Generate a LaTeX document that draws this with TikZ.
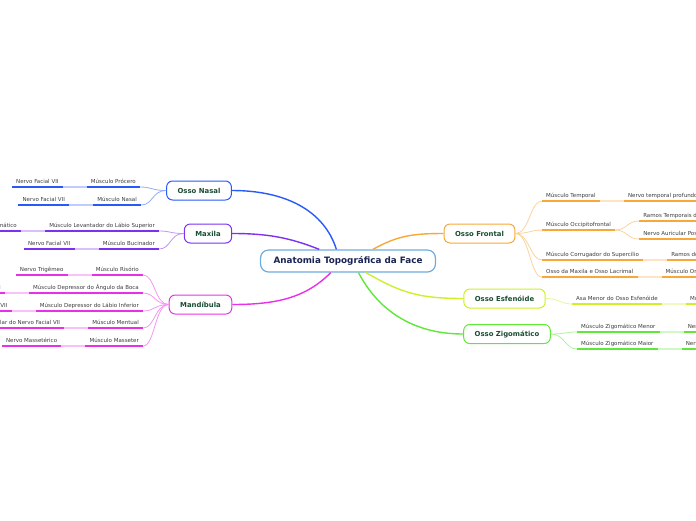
\documentclass[tikz,border=0pt]{standalone}
\usepackage{fontspec}
\setmainfont{DejaVu Sans}
\usepackage{tikz}
\usetikzlibrary{positioning}
\definecolor{mapleaf}{RGB}{60,60,60}
\definecolor{maptext}{RGB}{26,77,50}
\definecolor{maproot}{RGB}{26,36,84}
\definecolor{maprootline}{RGB}{110,172,222}
\definecolor{mapnasal}{RGB}{40,90,250}
\definecolor{mapmaxila}{RGB}{124,48,240}
\definecolor{mapmand}{RGB}{232,48,232}
\definecolor{mapfront}{RGB}{248,168,56}
\definecolor{mapesf}{RGB}{205,240,40}
\definecolor{mapzig}{RGB}{96,232,56}
\tikzset{
  bx/.style    ={draw, line width=1pt, rounded corners=6pt, fill=white, text=maptext,
                 font=\fontsize{6.9}{8}\selectfont\bfseries, inner xsep=11pt, minimum height=19pt},
  rootbx/.style={bx, draw=maprootline, line width=1.2pt, rounded corners=8pt, text=maproot,
                 font=\fontsize{8.8}{10}\selectfont\bfseries, inner xsep=13pt, minimum height=22pt},
  lf/.style    ={font=\fontsize{5.5}{6}\selectfont, text=mapleaf, inner xsep=4pt, inner ysep=1.5pt,
                 text height=5pt, text depth=1.5pt},
  ul/.style    ={draw=#1, line width=1.8pt, line cap=butt},
  ulp/.style   ={draw=#1!30, line width=1.8pt, line cap=butt},
  br/.style    ={draw=#1!50, line width=0.8pt},
  lk/.style    ={draw=#1, line width=1.4pt},
}
\begin{document}
\begin{tikzpicture}[x=1pt, y=-1pt]
  \useasboundingbox (0,0) rectangle (696,520);
  \clip (0,0) rectangle (696,520);
  % central topic and main topics
  \node[rootbx] (face) at (348,261) {Anatomia Topográfica da Face};
  \node[bx, draw=mapnasal] (nasal) at (199,190.5) {Osso Nasal};
  \node[bx, draw=mapmaxila] (maxila) at (208,233.5) {Maxila};
  \node[bx, draw=mapmand] (mand) at (200.5,304.5) {Mandíbula};
  \node[bx, draw=mapfront] (front) at (479.5,233.5) {Osso Frontal};
  \node[bx, draw=mapesf] (esf) at (504.5,298.5) {Osso Esfenóide};
  \node[bx, draw=mapzig] (zig) at (507,334) {Osso Zigomático};
  \draw[lk=mapnasal] (face.135) .. controls +(-12,-38) and +(55,0) .. (nasal.east);
  \draw[lk=mapmaxila] (face.158) .. controls +(-30,-12) and +(35,0) .. (maxila.east);
  \draw[lk=mapmand] (face.214) .. controls +(-25,25) and +(45,0) .. (mand.east);
  \draw[lk=mapfront] (face.25) .. controls +(25,-14) and +(-30,0) .. (front.west);
  \draw[lk=mapesf] (face.327) .. controls +(35,20) and +(-45,0) .. (esf.west);
  \draw[lk=mapzig] (face.312) .. controls +(20,38) and +(-50,0) .. (zig.west);

  % Osso Nasal
  \node[lf, anchor=south east] (n1) at (140,187) {Músculo Prócero};
  \node[lf, left=24pt of n1] (n1a) {Nervo Facial VII};
  \node[lf, anchor=south east] (n2) at (141,205) {Músculo Nasal};
  \node[lf, left=24pt of n2] (n2a) {Nervo Facial VII};
  \foreach \a/\b in {n1/n1a, n2/n2a} {
    \draw[br=mapnasal] (nasal.west) .. controls +(-14,0) and +(12,0) .. (\a.south east);
    \draw[ul=mapnasal] (\a.south west) -- (\a.south east);
    \draw[ulp=mapnasal] (\b.south east) -- (\a.south west);
    \draw[ul=mapnasal] (\b.south west) -- (\b.south east);
  }

  % Maxila
  \node[lf, anchor=south east] (m1) at (159,231) {Músculo Levantador do Lábio Superior};
  \node[lf, left=24pt of m1] (m1a) {Nervo Zigomático};
  \node[lf, anchor=south east] (m2) at (159,249) {Músculo Bucinador};
  \node[lf, left=24pt of m2] (m2a) {Nervo Facial VII};
  \foreach \a/\b in {m1/m1a, m2/m2a} {
    \draw[br=mapmaxila] (maxila.west) .. controls +(-14,0) and +(12,0) .. (\a.south east);
    \draw[ul=mapmaxila] (\a.south west) -- (\a.south east);
    \draw[ulp=mapmaxila] (\b.south east) -- (\a.south west);
    \draw[ul=mapmaxila] (\b.south west) -- (\b.south east);
  }

  % Mandibula
  \node[lf, anchor=south east] (d1) at (143,275) {Músculo Risório};
  \node[lf, left=24pt of d1] (d1a) {Nervo Trigêmeo};
  \node[lf, anchor=south east] (d2) at (143,293) {Músculo Depressor do Ângulo da Boca};
  \node[lf, left=24pt of d2] (d2a) {Nervo Facial VII};
  \node[lf, anchor=south east] (d3) at (143,311) {Músculo Depressor do Lábio Inferior};
  \node[lf, left=24pt of d3] (d3a) {Nervo Facial VII};
  \node[lf, anchor=south east] (d4) at (143,328) {Músculo Mentual};
  \node[lf, left=24pt of d4] (d4a) {Ramo Mandibular do Nervo Facial VII};
  \node[lf, anchor=south east] (d5) at (143,346) {Músculo Masseter};
  \node[lf, left=24pt of d5] (d5a) {Nervo Massetérico};
  \foreach \a/\b in {d1/d1a, d2/d2a, d3/d3a, d4/d4a, d5/d5a} {
    \draw[br=mapmand] (mand.west) .. controls +(-14,0) and +(12,0) .. (\a.south east);
    \draw[ul=mapmand] (\a.south west) -- (\a.south east);
    \draw[ulp=mapmand] (\b.south east) -- (\a.south west);
    \draw[ul=mapmand] (\b.south west) -- (\b.south east);
  }

  % Osso Frontal
  \node[lf, anchor=south west] (f1) at (542,201) {Músculo Temporal};
  \node[lf, right=24pt of f1] (f1a) {Nervo temporal profundo};
  \node[lf, anchor=south west] (f2) at (542,230) {Músculo Occipitofrontal};
  \node[lf, anchor=south west] (f2a) at ([xshift=24pt, yshift=9pt]f2.south east) {Ramos Temporais do Nervo Facial};
  \node[lf, anchor=south west] (f2b) at ([xshift=24pt, yshift=-9pt]f2.south east) {Nervo Auricular Posterior};
  \node[lf, anchor=south west] (f3) at (542,260) {Músculo Corrugador do Supercílio};
  \node[lf, right=24pt of f3] (f3a) {Ramos do Nervo Facial};
  \node[lf, anchor=south west] (f4) at (542,277) {Osso da Maxila e Osso Lacrimal};
  \node[lf, right=24pt of f4] (f4a) {Músculo Orbicular do Olho};
  \foreach \a in {f1, f2, f3, f4} {
    \draw[br=mapfront] (front.east) .. controls +(14,0) and +(-12,0) .. (\a.south west);
    \draw[ul=mapfront] (\a.south west) -- (\a.south east);
  }
  \foreach \a/\b in {f1/f1a, f3/f3a, f4/f4a} {
    \draw[ulp=mapfront] (\a.south east) -- (\b.south west);
    \draw[ul=mapfront] (\b.south west) -- (\b.south east);
  }
  \foreach \b in {f2a, f2b} {
    \draw[br=mapfront] (f2.south east) .. controls +(12,0) and +(-12,0) .. (\b.south west);
    \draw[ul=mapfront] (\b.south west) -- (\b.south east);
  }

  % Osso Esfenoide
  \node[lf, anchor=south west] (e1) at (572,304) {Asa Menor do Osso Esfenóide};
  \node[lf, right=24pt of e1] (e1a) {Músculo Temporal};
  \draw[br=mapesf] (esf.east) .. controls +(14,0) and +(-12,0) .. (e1.south west);
  \draw[ul=mapesf] (e1.south west) -- (e1.south east);
  \draw[ulp=mapesf] (e1.south east) -- (e1a.south west);
  \draw[ul=mapesf] (e1a.south west) -- (e1a.south east);

  % Osso Zigomatico
  \node[lf, anchor=south west] (z1) at (577,332) {Músculo Zigomático Menor};
  \node[lf, right=24pt of z1] (z1a) {Nervo Facial VII};
  \node[lf, anchor=south west] (z2) at (577,349) {Músculo Zigomático Maior};
  \node[lf, right=24pt of z2] (z2a) {Nervo Facial VII};
  \foreach \a/\b in {z1/z1a, z2/z2a} {
    \draw[br=mapzig] (zig.east) .. controls +(14,0) and +(-12,0) .. (\a.south west);
    \draw[ul=mapzig] (\a.south west) -- (\a.south east);
    \draw[ulp=mapzig] (\a.south east) -- (\b.south west);
    \draw[ul=mapzig] (\b.south west) -- (\b.south east);
  }
\end{tikzpicture}
\end{document}
